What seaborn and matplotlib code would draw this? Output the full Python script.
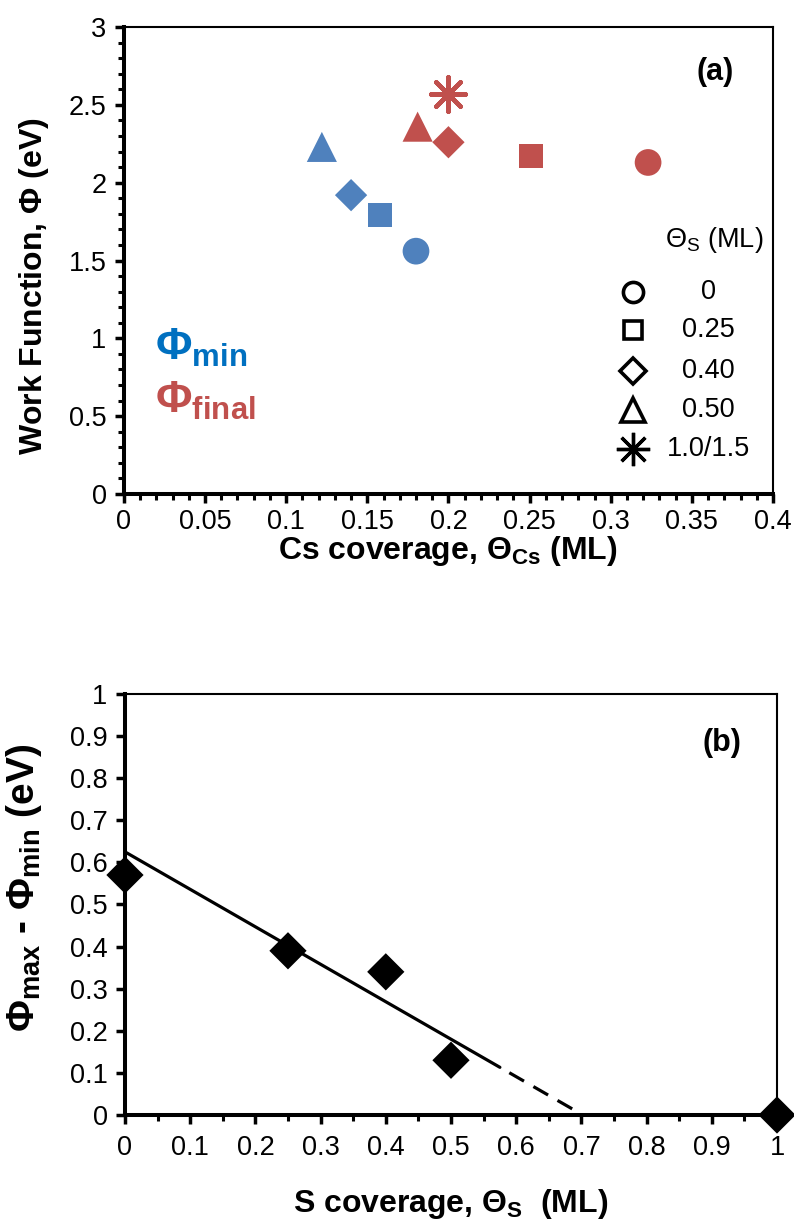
import numpy as np
import pandas as pd
import matplotlib
matplotlib.use("Agg")
import matplotlib.pyplot as plt
import seaborn as sns
from matplotlib.ticker import MultipleLocator, FuncFormatter

# ---------------- data ----------------
# (a) work function vs Cs coverage, one marker shape per S pre-coverage
theta_s_labels = ["0", "0.25", "0.40", "0.50", "1.0/1.5"]
cs_at_min = [0.180, 0.158, 0.140, 0.122]          # Cs coverage at the minimum
phi_min = [1.56, 1.79, 1.92, 2.23]                # minimum work function (eV)
cs_at_final = [0.323, 0.251, 0.200, 0.181, 0.200] # Cs coverage at saturation
phi_final = [2.13, 2.17, 2.26, 2.36, 2.57]        # final work function (eV)

# (b) work-function dip depth vs S coverage
s_coverage = [0.0, 0.25, 0.40, 0.50, 1.0]
phi_dip = [0.57, 0.39, 0.34, 0.13, 0.0]
fit_intercept = 0.625
fit_slope = -0.89
fit_solid_end = 0.575
fit_dash_end = 0.69

# ---------------- style ----------------
sns.set_style("ticks")
plt.rcParams["font.family"] = ["Liberation Sans", "DejaVu Sans"]
plt.rcParams["mathtext.fontset"] = "custom"
plt.rcParams["mathtext.rm"] = "Liberation Sans"
plt.rcParams["mathtext.it"] = "Liberation Sans:italic"
plt.rcParams["mathtext.bf"] = "Liberation Sans:bold"
plt.rcParams["mathtext.default"] = "regular"
for key in ("text.color", "axes.labelcolor", "xtick.color", "ytick.color",
            "axes.edgecolor"):
    plt.rcParams[key] = "black"

BLUE = "#4F81BD"
RED = "#C0504D"
BLUE_TXT = "#0070C0"

shape_for = dict(zip(theta_s_labels, ["o", "s", "D", "^", (8, 2, 0)]))
size_for = dict(zip(theta_s_labels, [370, 300, 270, 470, 620]))

rows = []
for lbl, x, y in zip(theta_s_labels, cs_at_min, phi_min):
    rows.append(dict(theta=lbl, cs=x, phi=y, kind="min"))
for lbl, x, y in zip(theta_s_labels, cs_at_final, phi_final):
    rows.append(dict(theta=lbl, cs=x, phi=y, kind="final"))
df_a = pd.DataFrame(rows)
df_b = pd.DataFrame(dict(theta_s=s_coverage, dphi=phi_dip))

fig = plt.figure(figsize=(7.94, 12.30), dpi=100)
ax_a = fig.add_axes([0.156, 0.5984, 0.8176, 0.3796])
ax_b = fig.add_axes([0.1574, 0.0935, 0.8212, 0.3423])

fmt = FuncFormatter(lambda v, p: f"{v:g}")


def frame(ax):
    for side in ("left", "bottom"):
        ax.spines[side].set_linewidth(2.9)
    for side in ("top", "right"):
        ax.spines[side].set_linewidth(1.5)
    for s in ax.spines.values():
        s.set_color("black")
        s.set_visible(True)
    ax.tick_params(which="major", direction="out", length=6.5, width=2.5,
                   color="black", labelsize=19.5, labelcolor="black")
    ax.tick_params(which="minor", direction="out", length=4.5, width=2.2,
                   color="black")
    ax.tick_params(axis="y", which="both", right=False, pad=6)
    ax.tick_params(axis="x", which="both", top=False, pad=4)
    ax.xaxis.set_major_formatter(fmt)
    ax.yaxis.set_major_formatter(fmt)
    ax.grid(False)


# ---------------- panel (a) ----------------
palette = {"min": BLUE, "final": RED}
for lbl in theta_s_labels:
    sub = df_a[df_a["theta"] == lbl]
    m = shape_for[lbl]
    filled = not isinstance(m, tuple)
    sns.scatterplot(data=sub, x="cs", y="phi", hue="kind", palette=palette,
                    marker=m, s=size_for[lbl], legend=False, ax=ax_a,
                    linewidth=0 if filled else 3.2,
                    **({"edgecolor": "none"} if filled else {}),
                    zorder=3)

ax_a.set_xlim(0, 0.4)
ax_a.set_ylim(0, 3)
ax_a.xaxis.set_major_locator(MultipleLocator(0.05))
ax_a.xaxis.set_minor_locator(MultipleLocator(0.01))
ax_a.yaxis.set_major_locator(MultipleLocator(0.5))
ax_a.yaxis.set_minor_locator(MultipleLocator(0.1))
frame(ax_a)
ax_a.set_xlabel(r"Cs coverage, $\mathbf{\Theta_{Cs}}$ (ML)", fontsize=23,
                fontweight="bold")
ax_a.set_ylabel(r"Work Function, $\mathbf{\Phi}$ (eV)", fontsize=23,
                fontweight="bold")
ax_a.xaxis.set_label_coords(0.499, -0.085)
ax_a.yaxis.set_label_coords(-0.112, 0.445)

ax_a.text(0.911, 0.904, "(a)", transform=ax_a.transAxes, fontsize=22,
          fontweight="bold", ha="center", va="center")
ax_a.text(0.048, 0.287, r"$\mathbf{\Phi_{min}}$", transform=ax_a.transAxes,
          fontsize=32, color=BLUE_TXT, ha="left", va="baseline")
ax_a.text(0.048, 0.173, r"$\mathbf{\Phi_{final}}$", transform=ax_a.transAxes,
          fontsize=32, color=RED, ha="left", va="baseline")

# key for the S pre-coverage marker shapes
ax_a.text(0.91, 0.545, r"$\Theta_S$ (ML)", transform=ax_a.transAxes,
          fontsize=19.5, ha="center", va="center")
key_y = [0.4325, 0.351, 0.263, 0.18, 0.096]
key_ms = [14.5, 13.5, 13.0, 17.0, 24.0]
for lbl, ky, ms in zip(theta_s_labels, key_y, key_ms):
    m = shape_for[lbl]
    filled = not isinstance(m, tuple)
    ax_a.plot([0.784], [ky], transform=ax_a.transAxes, marker=m,
              markersize=ms, markerfacecolor="none" if filled else "black",
              markeredgecolor="black", markeredgewidth=2.6 if filled else 2.4,
              linestyle="none", clip_on=False)
    ax_a.text(0.9, ky, lbl, transform=ax_a.transAxes, fontsize=19.5,
              ha="center", va="center")

# ---------------- panel (b) ----------------
sns.scatterplot(data=df_b, x="theta_s", y="dphi", marker="D", s=360,
                color="black", edgecolor="none", linewidth=0, legend=False,
                ax=ax_b, zorder=4, clip_on=False)

x_solid = np.array([0.0, fit_solid_end])
x_dash = np.array([fit_solid_end, fit_dash_end])
sns.lineplot(x=x_solid, y=fit_intercept + fit_slope * x_solid, color="black",
             linewidth=2.3, ax=ax_b, sort=False, estimator=None)
sns.lineplot(x=x_dash, y=fit_intercept + fit_slope * x_dash, color="black",
             linewidth=2.3, ax=ax_b, sort=False, estimator=None)
ax_b.lines[-1].set_linestyle((5.3, (5.3, 3.4)))

ax_b.set_xlim(0, 1)
ax_b.set_ylim(0, 1)
ax_b.xaxis.set_major_locator(MultipleLocator(0.1))
ax_b.xaxis.set_minor_locator(MultipleLocator(0.05))
ax_b.yaxis.set_major_locator(MultipleLocator(0.1))
frame(ax_b)
ax_b.tick_params(axis="x", which="both", pad=8)
ax_b.set_xlabel(r"S coverage, $\mathbf{\Theta_S}$  (ML)", fontsize=23,
                fontweight="bold")
ax_b.set_ylabel(r"$\mathbf{\Phi_{max}}$ - $\mathbf{\Phi_{min}}$ (eV)",
                fontsize=28, fontweight="bold")
ax_b.xaxis.set_label_coords(0.5, -0.17)
ax_b.yaxis.set_label_coords(-0.124, 0.539)
ax_b.text(0.916, 0.884, "(b)", transform=ax_b.transAxes, fontsize=22,
          fontweight="bold", ha="center", va="center")

fig.savefig("out.png", dpi=100, facecolor="white")
